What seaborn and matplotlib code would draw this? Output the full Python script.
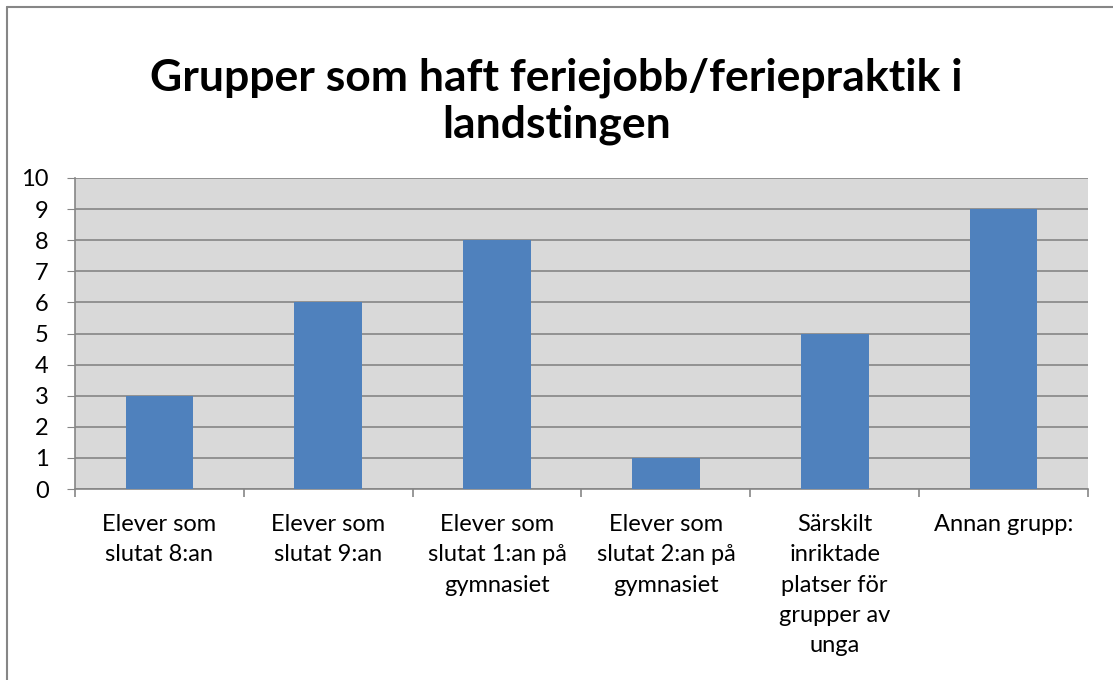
import numpy as np
import pandas as pd
import seaborn as sns
import matplotlib.pyplot as plt
from matplotlib.lines import Line2D

# data
categories = [
    "Elever som\nslutat 8:an",
    "Elever som\nslutat 9:an",
    "Elever som\nslutat 1:an på\ngymnasiet",
    "Elever som\nslutat 2:an på\ngymnasiet",
    "Särskilt\ninriktade\nplatser för\ngrupper av\nunga",
    "Annan grupp:",
]
values = [3, 6, 8, 1, 5, 9]
title = "Grupper som haft feriejobb/feriepraktik i\nlandstingen"

df = pd.DataFrame({"grupp": categories, "antal": values})

sns.set_style("white")
plt.rcParams["font.family"] = ["Lato", "DejaVu Sans"]

fig = plt.figure(figsize=(11.13, 6.8), dpi=100)
ax = fig.add_axes([75 / 1113, 1 - 489 / 680, 1013 / 1113, 311 / 680])

sns.barplot(data=df, x="grupp", y="antal", color="#4F81BD", width=0.4,
            saturation=1, linewidth=0, ax=ax, zorder=3)

ax.set_facecolor("#D9D9D9")
ax.set_ylim(0, 10)
ax.set_xlim(-0.5, 5.5)
ax.set_yticks(range(0, 11))
ax.yaxis.grid(True, color="#868686", linewidth=1.2, zorder=1)
ax.set_axisbelow(True)
ax.set_xlabel("")
ax.set_ylabel("")

for s in ["top", "right"]:
    ax.spines[s].set_visible(False)
for s in ["left", "bottom"]:
    ax.spines[s].set_color("#868686")
    ax.spines[s].set_linewidth(1.2)

ax.tick_params(axis="y", left=True, length=6, color="#868686", labelsize=17, pad=13,
               labelcolor="black")
ax.set_xticks(range(len(categories)))
ax.set_xticklabels(categories, fontsize=17, linespacing=1.55, va="top", color="black")
ax.tick_params(axis="x", which="major", length=0, pad=18)
ax.set_xticks(np.arange(-0.5, 6, 1), minor=True)
ax.tick_params(axis="x", which="minor", bottom=True, length=6, color="#868686", width=1.2)

fig.text(0.5, 1 - 101 / 680, title, ha="center", va="center", fontsize=32,
         fontweight="bold", linespacing=1.2, color="black")

# chart frame (top and left edges visible)
fig.add_artist(Line2D([7 / 1113, 7 / 1113], [0, 1 - 7 / 680], color="#868686", lw=1.5, transform=fig.transFigure))
fig.add_artist(Line2D([7 / 1113, 1], [1 - 7 / 680, 1 - 7 / 680], color="#868686", lw=1.5, transform=fig.transFigure))

fig.savefig("out.png", dpi=100)
